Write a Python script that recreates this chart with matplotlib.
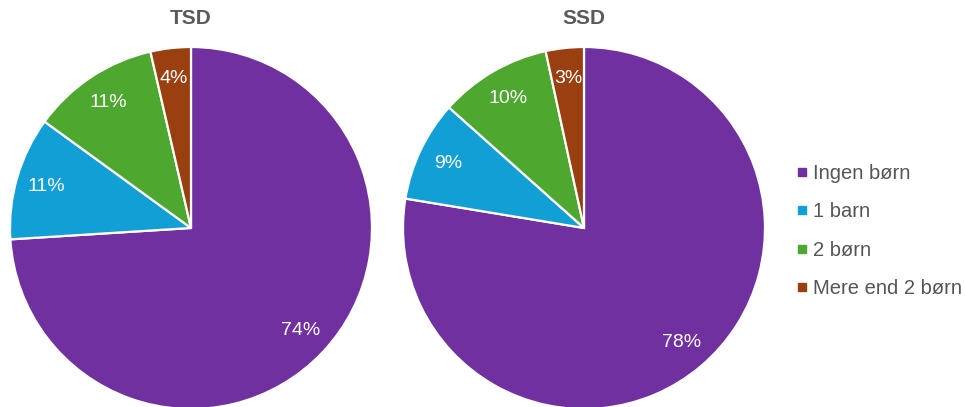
import matplotlib.pyplot as plt
from matplotlib.lines import Line2D

plt.rcParams['font.family'] = ['Liberation Sans', 'DejaVu Sans']

categories = ['Ingen børn', '1 barn', '2 børn', 'Mere end 2 børn']
titles = ['TSD', 'SSD']
tsd = [74.0, 11.0, 11.4, 3.6]
ssd = [77.6, 9.0, 10.0, 3.4]
colors = ['#7030a0', '#129fd6', '#4ea72e', '#9a3f0f']

fig = plt.figure(figsize=(9.65, 4.07), dpi=100)

# pie axes placed in pixel-ish positions
boxes = [(10/965, -2/407, 362/965, 362/407), (403/965, -2/407, 362/965, 362/407)]
for box, title, vals in zip(boxes, titles, [tsd, ssd]):
    ax = fig.add_axes(box)
    wedges, texts, autotexts = ax.pie(
        vals, colors=colors, startangle=90, counterclock=False,
        autopct='%.0f%%', pctdistance=0.83,
        wedgeprops=dict(edgecolor='white', linewidth=1.6),
        textprops=dict(color='white', fontsize=14))
    ax.set_xlim(-1, 1)
    ax.set_ylim(-1, 1)
    ax.set_aspect('equal')
    cx = box[0] + box[2] / 2
    fig.text(cx, 1 - 18/407, title, ha='center', va='center',
             fontsize=15, fontweight='bold', color='#5a5a5a')

handles = [Line2D([], [], marker='s', linestyle='none', markersize=6,
                  markerfacecolor=c, markeredgecolor=c) for c in colors]
fig.legend(handles, categories, loc='center left',
           bbox_to_anchor=(778/965, 1 - 231/407), frameon=False,
           fontsize=14.5, labelcolor='#555555', handlelength=0.6,
           handletextpad=0.25, labelspacing=0.95)

fig.savefig('out.png', dpi=100)
